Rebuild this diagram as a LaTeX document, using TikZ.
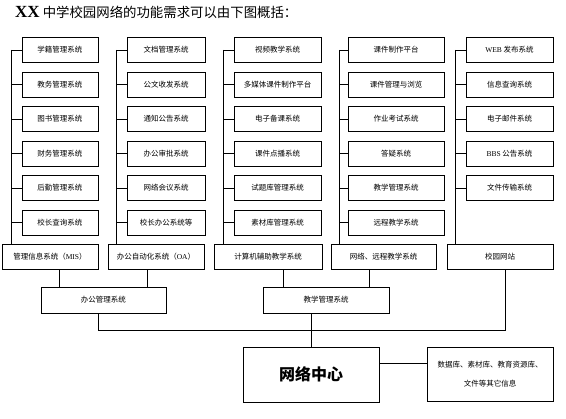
\documentclass[tikz,border=0pt]{standalone}
\usepackage{fontspec}
\setmainfont{Liberation Serif}
\newfontfamily\cjk{Noto Sans CJK SC}
\begin{document}
\begin{tikzpicture}[
  x=1pt, y=-1pt,
  line/.style={draw=black, line width=0.8pt},
  sub/.style={line, rectangle, inner sep=0pt, minimum height=25pt, font=\cjk\fontsize{7.5}{9}\selectfont},
  big/.style={sub, minimum height=26pt},
  hub/.style={line, rectangle, inner sep=0pt, minimum width=136pt, minimum height=55pt, font=\cjk\bfseries\fontsize{16}{18}\selectfont}
]
  \useasboundingbox (0,0) rectangle (566,419);

  % Titel
  \node[anchor=west, inner sep=0pt, font=\cjk\fontsize{13.4}{15}\selectfont] (title) at (15,12)
    {{\rmfamily\bfseries\fontsize{17}{17}\selectfont XX}\hspace{3pt}中学校园网络的功能需求可以由下图概括：};

  % Spalten der Teilsysteme
  \foreach \t [count=\i] in {学籍管理系统,教务管理系统,图书管理系统,财务管理系统,后勤管理系统,校长查询系统}
    \node[sub, minimum width=76pt] (m\i) at (60,{50+34.5*(\i-1)}) {\t};
  \foreach \t [count=\i] in {文档管理系统,公文收发系统,通知公告系统,办公审批系统,网络会议系统,校长办公系统等}
    \node[sub, minimum width=78pt] (o\i) at (166,{50+34.5*(\i-1)}) {\t};
  \foreach \t [count=\i] in {视频教学系统,多媒体课件制作平台,电子备课系统,课件点播系统,试题库管理系统,素材库管理系统}
    \node[sub, minimum width=87pt] (c\i) at (277.5,{50+34.5*(\i-1)}) {\t};
  \foreach \t [count=\i] in {课件制作平台,课件管理与浏览,作业考试系统,答疑系统,教学管理系统,远程教学系统}
    \node[sub, minimum width=96pt] (n\i) at (396,{50+34.5*(\i-1)}) {\t};
  \foreach \t [count=\i] in {{\rmfamily WEB} 发布系统,信息查询系统,电子邮件系统,{\rmfamily BBS} 公告系统,文件传输系统}
    \node[sub, minimum width=87pt] (w\i) at (509.5,{50+34.5*(\i-1)}) {\t};

  % Untere Reihe
  \node[sub, minimum width=96pt] (mis) at (50,256.5) {管理信息系统（{\rmfamily MIS}）};
  \node[sub, minimum width=96pt] (oa) at (156,256.5) {办公自动化系统（{\rmfamily OA}）};
  \node[sub, minimum width=108pt] (cai) at (268,256.5) {计算机辅助教学系统};
  \node[sub, minimum width=105pt] (dist) at (383.5,256.5) {网络、远程教学系统};
  \node[sub, minimum width=106pt] (web) at (500,256.5) {校园网站};

  \node[big, minimum width=125pt] (office) at (103.5,300) {办公管理系统};
  \node[big, minimum width=126pt] (teach) at (326,300) {教学管理系统};

  \node[hub] (center) at (311,374.5) {网络中心};
  \node[line, rectangle, inner sep=0pt, minimum width=126pt, minimum height=54pt, align=center,
    font=\cjk\fontsize{7.5}{19}\selectfont] (info) at (490,374) {数据库、素材库、教育资源库、\\文件等其它信息};

  % Verbindungen
  \foreach \col/\n/\bot/\sh in {m/6/mis/10pt, o/6/oa/10pt, c/6/cai/10pt, n/6/dist/8pt, w/5/web/10pt} {
    \draw[line] ([xshift=-\sh]\col1.west) -- ([xshift=-\sh]\col1.west |- \bot.north);
    \foreach \i in {1,...,\n}
      \draw[line] ([xshift=-\sh]\col\i.west) -- (\col\i.west);
  }

  \draw[line] ([xshift=9pt]mis.south) -- ([xshift=9pt]mis.south |- office.north);
  \draw[line] ([xshift=-9pt]oa.south) -- ([xshift=-9pt]oa.south |- office.north);
  \draw[line] ([xshift=15pt]cai.south) -- ([xshift=15pt]cai.south |- teach.north);
  \draw[line] ([xshift=-14.5pt]dist.south) -- ([xshift=-14.5pt]dist.south |- teach.north);

  \draw[line] ([xshift=-5.5pt]office.south) |- ([xshift=5pt]web.south |- 0,330) -- ([xshift=5pt]web.south);
  \draw[line] (center.north |- teach.south) -- (center.north);
  \draw[line] ([yshift=11pt]center.east) -- ([yshift=11pt]center.east -| info.west);
\end{tikzpicture}
\end{document}
